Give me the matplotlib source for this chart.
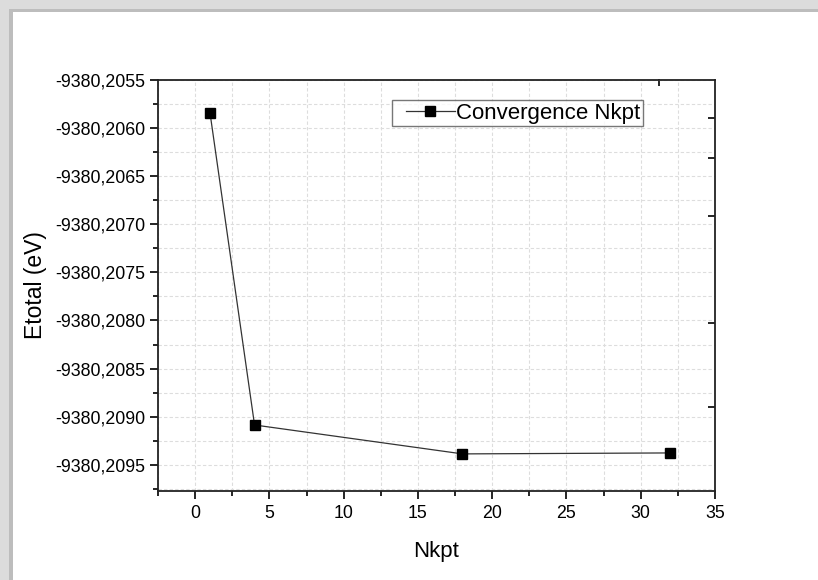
import matplotlib
matplotlib.use("Agg")
import matplotlib.pyplot as plt
from matplotlib.ticker import FuncFormatter, MultipleLocator, NullFormatter
from matplotlib.patches import Rectangle
from matplotlib.lines import Line2D
from matplotlib.legend_handler import HandlerLine2D

plt.rcParams['font.family'] = ['Liberation Sans', 'DejaVu Sans']

# Data
nkpt = [1, 4, 18, 32]
etotal = [-9380.205845, -9380.209085, -9380.209385, -9380.209375]
series_label = "Convergence Nkpt"
x_label = "Nkpt"
y_label = "Etotal (eV)"
# extra inward ticks seen on the mirrored axes
right_ticks = [-9380.205895, -9380.206310, -9380.206913, -9380.208025, -9380.208897]
top_ticks = [31.25]

W, H = 818, 580
fig = plt.figure(figsize=(W / 100, H / 100), dpi=100)
fig.patch.set_facecolor('white')

# decorative frame (outer light band, inner darker stripe)
def px_rect(x0, y0, w, h, color):
    fig.patches.append(Rectangle((x0 / W, 1 - (y0 + h) / H), w / W, h / H,
                                 transform=fig.transFigure, color=color,
                                 zorder=-10, lw=0))
px_rect(0, 0, W, 9, '#dcdcdc')
px_rect(9, 9, W - 9, 3, '#bdbdbd')
px_rect(0, 0, 9, H, '#dcdcdc')
px_rect(9, 9, 4, H - 9, '#bdbdbd')

ax = fig.add_axes([158 / W, 1 - 491 / H, (715 - 158) / W, (491 - 79.5) / H])

ax.plot(nkpt, etotal, color='#333333', lw=0.9, marker='s', markersize=7,
        markerfacecolor='black', markeredgecolor='black', label=series_label)

ax.set_xlim(-2.5, 35)
ax.set_ylim(-9380.20977, -9380.2055)

ax.xaxis.set_major_locator(MultipleLocator(5))
ax.xaxis.set_minor_locator(MultipleLocator(2.5))
ax.yaxis.set_major_locator(MultipleLocator(0.0005))
ax.yaxis.set_minor_locator(MultipleLocator(0.00025))
ax.yaxis.set_major_formatter(FuncFormatter(lambda v, p: ("%.4f" % v).replace('.', ',')))

ax.grid(True, which='both', color='#dddddd', linestyle=(0, (3, 2)), lw=0.8)
ax.set_axisbelow(True)

ax.tick_params(which='major', direction='out', length=6, width=1.2,
               labelsize=12.8, colors='black', pad=3)
ax.tick_params(axis='x', which='major', pad=4)
ax.tick_params(which='minor', direction='out', length=3.5, width=1.2)
for s in ax.spines.values():
    s.set_linewidth(1.3)
    s.set_color('#222222')

# mirrored inward ticks
sy = ax.secondary_yaxis('right')
sy.set_yticks(right_ticks)
sy.yaxis.set_major_formatter(NullFormatter())
sy.tick_params(direction='in', length=5, width=1.2)
sy.spines['right'].set_visible(False)
sx = ax.secondary_xaxis('top')
sx.set_xticks(top_ticks)
sx.xaxis.set_major_formatter(NullFormatter())
sx.tick_params(direction='in', length=5, width=1.2)
sx.spines['top'].set_visible(False)

ax.set_xlabel(x_label, fontsize=16, labelpad=14)
ax.set_ylabel(y_label, fontsize=16.5, labelpad=6)

fs = 16
fs_px = fs * 100 / 72
bpad = 0.12
xpad = 0.5
hlen = (455 - (392 + bpad * fs_px)) / fs_px
leg = ax.legend(loc='upper left',
                bbox_to_anchor=((392 - 158) / (715 - 158), 1 - (100 - 79.5) / (491 - 79.5)),
                fontsize=fs, frameon=True, fancybox=False, borderpad=bpad,
                handlelength=hlen, handletextpad=0.05, borderaxespad=0,
                handler_map={Line2D: HandlerLine2D(xpad=xpad)})
leg.get_frame().set_edgecolor('#555555')
leg.get_frame().set_linewidth(1.0)

fig.savefig('out.png', dpi=100)
